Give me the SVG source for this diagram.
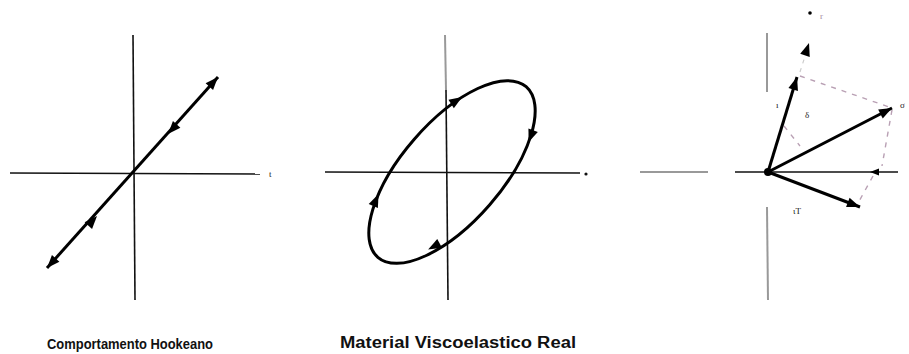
<svg xmlns="http://www.w3.org/2000/svg" xmlns:xlink="http://www.w3.org/1999/xlink" width="909" height="354" viewBox="0 0 909 354">
<style>
.ax{stroke:#111;stroke-width:1.6;fill:none}
.axg{stroke:#999;stroke-width:2;fill:none}
.cv{stroke:#000;stroke-width:3;fill:none}
.vec{stroke:#000;stroke-width:3;fill:none}
.dash{stroke:#b9a0b4;stroke-width:1.4;stroke-dasharray:5 6;fill:none}
.cap{font-family:"Liberation Sans",Arial,sans-serif;font-weight:bold;font-size:14px;fill:#111}
.cap2{font-family:"Liberation Sans",Arial,sans-serif;font-weight:bold;font-size:16px;fill:#111}
.lbl{font-family:"Liberation Serif",serif;font-size:9px;fill:#222}
.lblp{font-family:"Liberation Serif",serif;font-size:9px;fill:#a58aa0}
</style>
<defs>
<path id="ah" d="M0,0 L-13,-5 L-13,5 Z" fill="#000"/>
<path id="ahs" d="M0,0 L-9,-3.5 L-9,3.5 Z" fill="#000"/>
</defs>

<g id="panel1">
<line class="ax" x1="133" y1="35" x2="135" y2="300"/>
<line class="ax" x1="10" y1="173" x2="260" y2="174"/>
<text class="lbl" x="269" y="177">t</text>
<line class="cv" x1="47" y1="268" x2="218" y2="77"/>
<use xlink:href="#ah" transform="translate(218,77) rotate(-48.2)"/>
<use xlink:href="#ah" transform="translate(47,268) rotate(131.8)"/>
<use xlink:href="#ah" transform="translate(168,134) rotate(131.8)"/>
<use xlink:href="#ah" transform="translate(97,216) rotate(-48.2)"/>
</g>

<g id="panel2">
<line class="axg" x1="445" y1="35" x2="446" y2="90"/>
<line class="ax" x1="446" y1="90" x2="448" y2="300"/>
<line class="ax" x1="325" y1="172" x2="580" y2="173"/>
<circle cx="586" cy="174" r="1.6" fill="#111"/>
<g transform="translate(452,172) rotate(-49)">
<ellipse class="cv" cx="0" cy="0" rx="113" ry="50"/>
<use xlink:href="#ah" transform="translate(63.2,-41.5) rotate(16.6)"/>
<use xlink:href="#ah" transform="translate(72.6,38.3) rotate(159.7)"/>
<use xlink:href="#ah" transform="translate(-64.8,-41) rotate(-17.2)"/>
<use xlink:href="#ah" transform="translate(-74.1,32.8) rotate(-159)"/>
</g>
</g>

<g id="panel3">
<line class="axg" x1="640" y1="172" x2="708" y2="172"/>
<line class="ax" x1="735" y1="172" x2="898" y2="172"/>
<line class="axg" x1="767" y1="33" x2="767" y2="92"/>
<line class="axg" x1="767" y1="207" x2="768" y2="300"/>
<line class="dash" x1="800" y1="76" x2="892" y2="108"/>
<line class="dash" x1="892" y1="110" x2="882" y2="166"/>
<line class="dash" x1="873" y1="176" x2="857" y2="205"/>
<line class="dash" x1="784" y1="126" x2="800" y2="146"/>
<line stroke="#ccc" stroke-width="1.2" stroke-dasharray="4 5" x1="800" y1="72" x2="807" y2="50"/>
<use xlink:href="#ah" transform="translate(809,43) rotate(-72)"/>
<circle cx="810" cy="13" r="1.8" fill="#000"/>
<text class="lblp" x="820" y="19">r</text>
<line class="vec" x1="768" y1="172" x2="797" y2="77"/>
<use xlink:href="#ah" transform="translate(797,77) rotate(-73)"/>
<line class="vec" x1="768" y1="172" x2="892" y2="108"/>
<use xlink:href="#ah" transform="translate(892,108) rotate(-27.3)"/>
<line class="vec" x1="768" y1="172" x2="860" y2="207"/>
<use xlink:href="#ah" transform="translate(860,207) rotate(20.8)"/>
<use xlink:href="#ahs" transform="translate(870,172) rotate(180)"/>
<circle cx="768" cy="172" r="4" fill="#000"/>
<text class="lbl" x="776" y="108">ı</text>
<text class="lbl" x="805" y="118">δ</text>
<text class="lbl" x="900" y="108">σ</text>
<text class="lbl" x="793" y="214">ιT</text>
</g>

<g id="captions">
<text class="cap" x="47" y="349" textLength="166" lengthAdjust="spacingAndGlyphs">Comportamento Hookeano</text>
<text class="cap2" x="340" y="348" textLength="236" lengthAdjust="spacingAndGlyphs">Material Viscoelastico Real</text>
</g>
</svg>
